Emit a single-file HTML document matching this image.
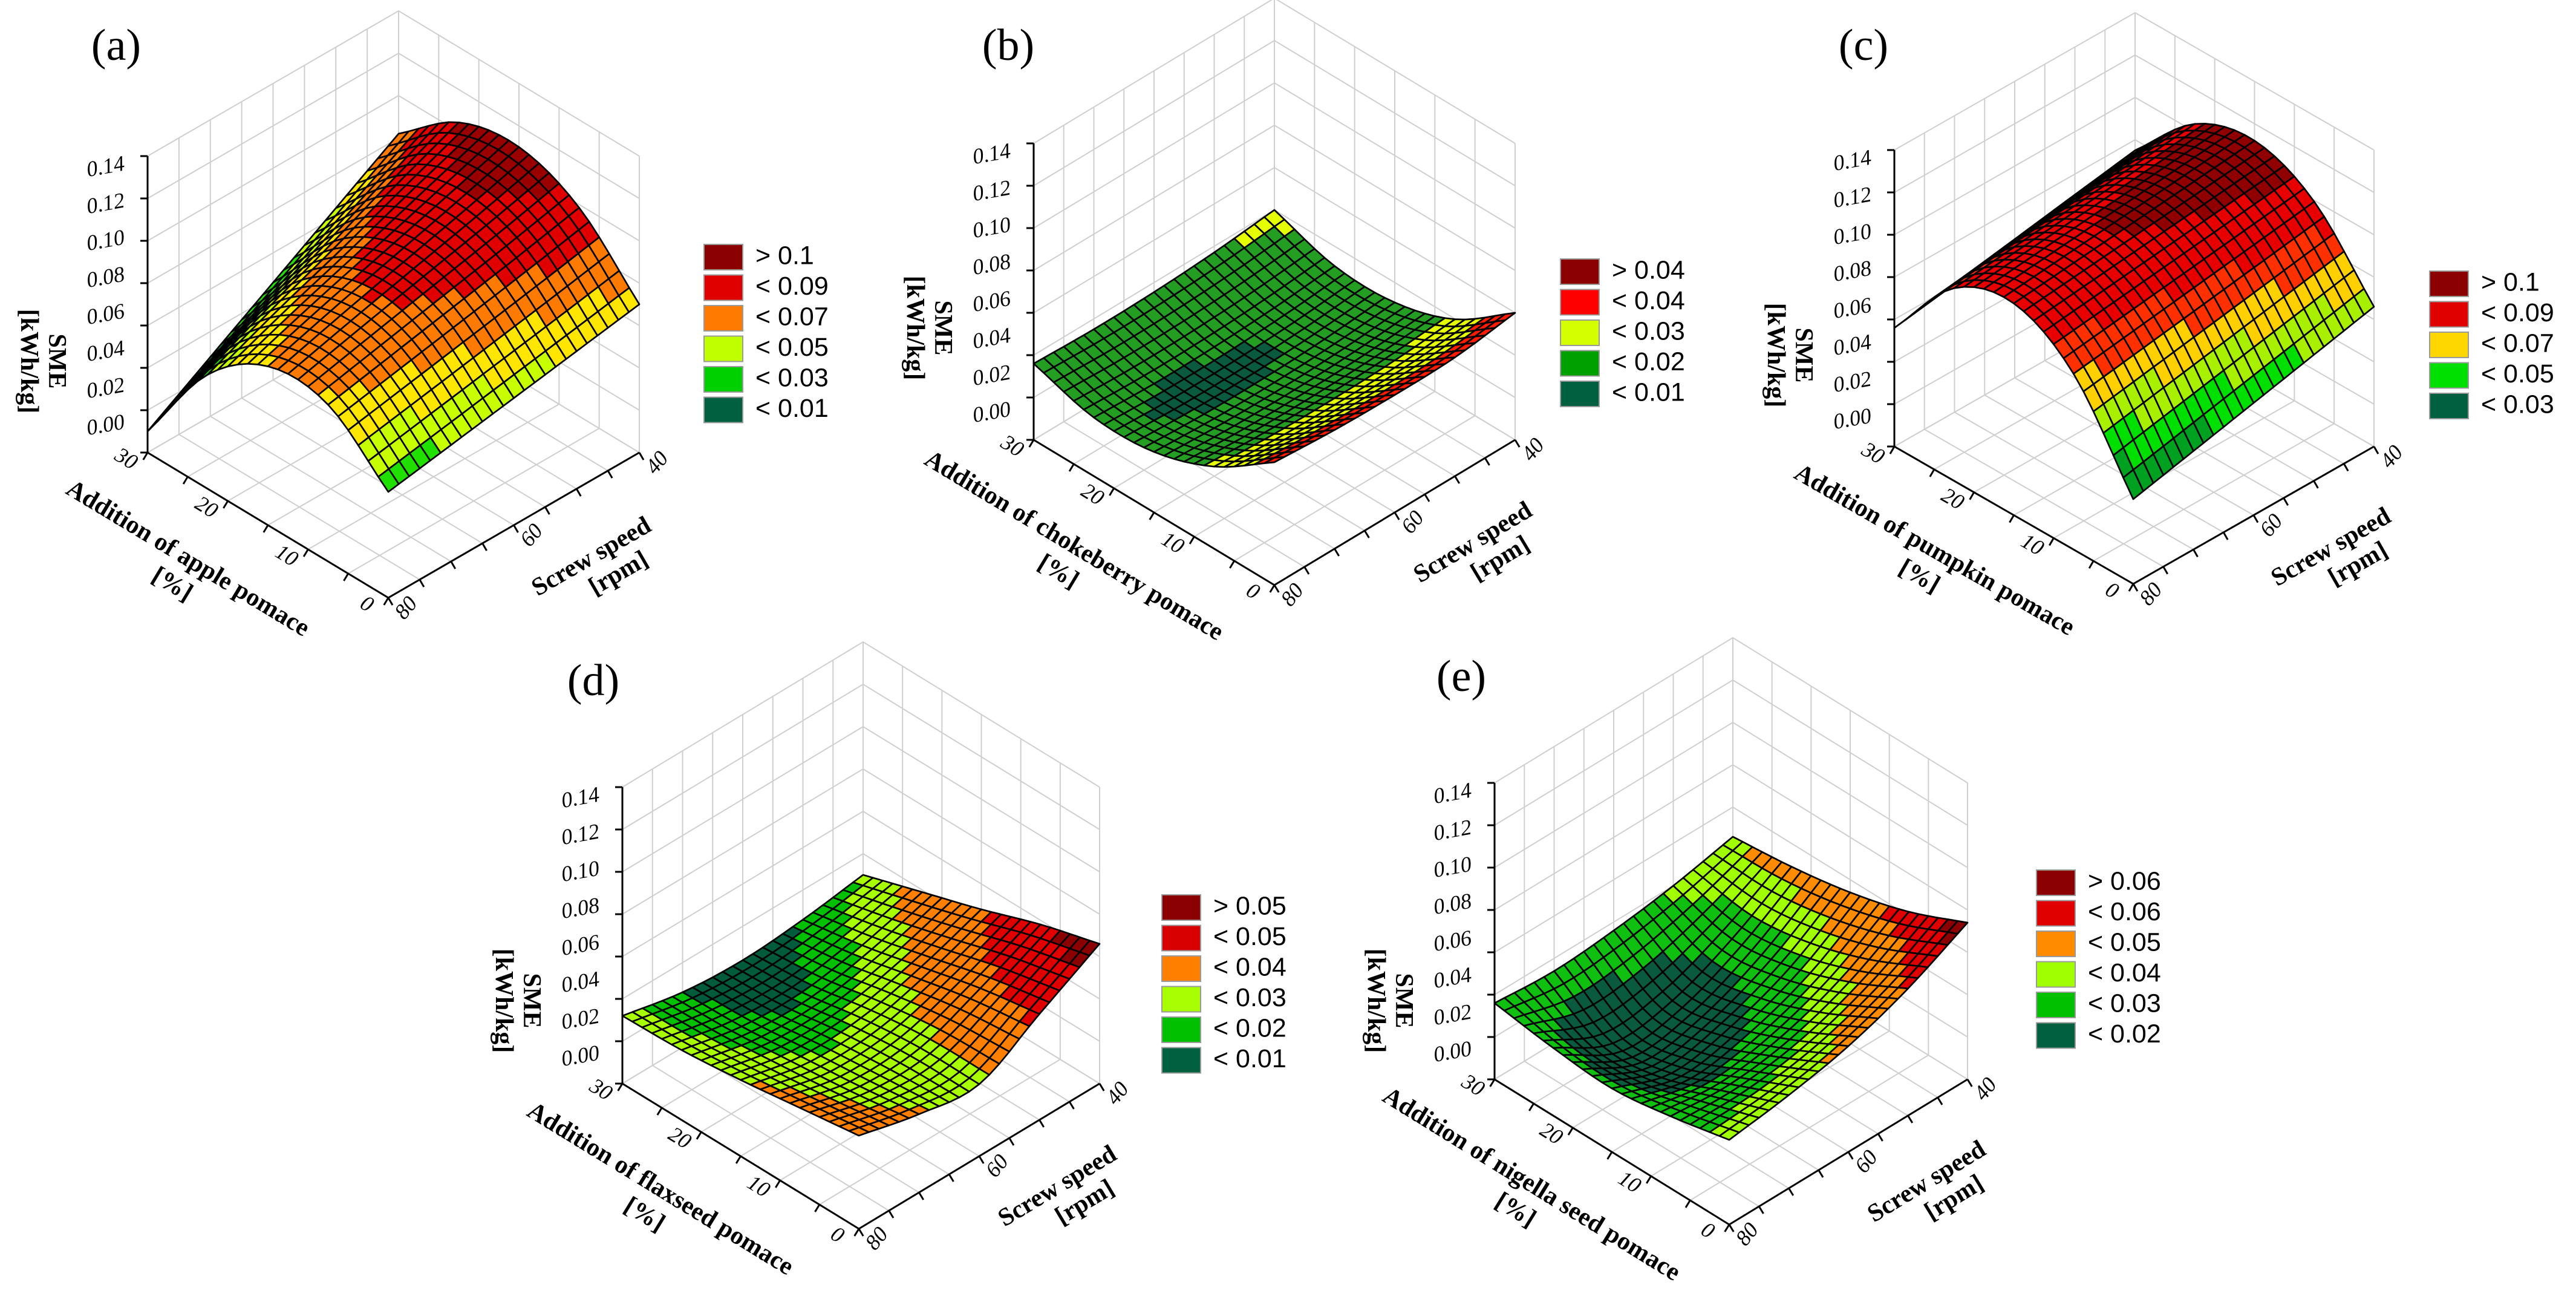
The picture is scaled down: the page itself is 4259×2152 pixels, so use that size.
<!DOCTYPE html>
<html><head><meta charset="utf-8"><title>SME response surfaces</title>
<style>
body{margin:0;background:#fff;}
svg{display:block;}
text{font-family:"Liberation Serif",serif;}
</style></head>
<body>
<svg id="fig" width="4259" height="2152" viewBox="0 0 4259 2152" xmlns="http://www.w3.org/2000/svg">
<rect x="0" y="0" width="4259" height="2152" fill="#ffffff"/>
</svg>
<script>
// ---- data (rows: screw speed 40..80 rpm, cols: pomace addition 0..30 %) ----
const speeds = [40, 50, 60, 70, 80];
const additions = [0, 7.5, 15, 22.5, 30];
const smeA = [
  [0.070, 0.0985, 0.110, 0.1045, 0.082],
  [0.065, 0.092, 0.101, 0.092, 0.064],
  [0.060, 0.086, 0.0925, 0.079, 0.046],
  [0.055, 0.080, 0.084, 0.067, 0.028],
  [0.050, 0.074, 0.075, 0.054, 0.010]
];
const smeB = [
  [0.060, 0.0398, 0.0306, 0.0307, 0.040],
  [0.0561, 0.0375, 0.0282, 0.0281, 0.0371],
  [0.0555, 0.0368, 0.0271, 0.0267, 0.0355],
  [0.0561, 0.0371, 0.0272, 0.0265, 0.0351],
  [0.058, 0.0388, 0.0286, 0.0277, 0.036]
];
const smeC = [
  [0.066, 0.0994, 0.112, 0.1037, 0.075],
  [0.0595, 0.0953, 0.109, 0.1005, 0.0703],
  [0.053, 0.0912, 0.106, 0.0974, 0.0655],
  [0.0465, 0.0871, 0.103, 0.0942, 0.0608],
  [0.040, 0.083, 0.100, 0.091, 0.056]
];
const smeD = [
  [0.066, 0.058, 0.048, 0.039, 0.030],
  [0.050, 0.045, 0.038, 0.031, 0.026],
  [0.034, 0.034, 0.031, 0.026, 0.024],
  [0.037, 0.033, 0.030, 0.027, 0.026],
  [0.044, 0.040, 0.036, 0.033, 0.032]
];
const smeE = [
  [0.074, 0.062, 0.054, 0.049, 0.046],
  [0.060, 0.046, 0.036, 0.032, 0.040],
  [0.050, 0.036, 0.025, 0.020, 0.036],
  [0.044, 0.032, 0.020, 0.017, 0.034],
  [0.040, 0.034, 0.030, 0.032, 0.036]
];
const zTickValues = [0, 0.02, 0.04, 0.06, 0.08, 0.10, 0.12, 0.14];
const zTickLabels = ['0.00', '0.02', '0.04', '0.06', '0.08', '0.10', '0.12', '0.14'];
const speedTickValues = [40, 60, 80];
const additionTickValues = [0, 10, 20, 30];
const legendA = ['> 0.1', '< 0.09', '< 0.07', '< 0.05', '< 0.03', '< 0.01'];
const legendB = ['> 0.04', '< 0.04', '< 0.03', '< 0.02', '< 0.01'];
const legendC = ['> 0.1', '< 0.09', '< 0.07', '< 0.05', '< 0.03'];
const legendD = ['> 0.05', '< 0.05', '< 0.04', '< 0.03', '< 0.02', '< 0.01'];
const legendE = ['> 0.06', '< 0.06', '< 0.05', '< 0.04', '< 0.03', '< 0.02'];
const bandLimitsA = [0.103, 0.088, 0.076, 0.066, 0.056, 0.035];
const bandLimitsB = [0.065, 0.050, 0.037, 0.0262];
const bandLimitsC = [0.105, 0.092, 0.082, 0.072, 0.062, 0.052, 0.044];
const bandLimitsD = [0.060, 0.048, 0.036, 0.030, 0.026];
const bandLimitsE = [0.068, 0.058, 0.046, 0.038, 0.027];

// ---- styles / layout ----
const NS = 'http://www.w3.org/2000/svg';
const svg = document.getElementById('fig');
const BOX_H = 490, ZMAX = 0.14, MESH = 24;
const panels = [
  {id:'a', grid:smeA, limits:bandLimitsA, legend:legendA,
   bandColors:['#9a0000','#e00000','#ff7a00','#ffe600','#c8ff00','#20e000','#00a040'],
   legendColors:['#8b0000','#e00000','#ff7b00','#c0ff00','#00d000','#006040'],
   L:[244,748], F:[642,988], R:[1057,748], lbl:[192,82], legX:1164, legY:425, smeDy:-151,
   title:'Addition of apple pomace'},
  {id:'b', grid:smeB, limits:bandLimitsB, legend:legendB,
   bandColors:['#8b0000','#ff1a00','#e6ff00','#239e23','#0a5a40'],
   legendColors:['#8b0000','#ff0000','#d4ff00','#00a000','#006040'],
   L:[1709,727], F:[2107,967], R:[2505,727], lbl:[1667,82], legX:2580, legY:449, smeDy:-185,
   title:'Addition of chokeberry pomace'},
  {id:'c', grid:smeC, limits:bandLimitsC, legend:legendC,
   bandColors:['#900000','#e80000','#ff3000','#ffd000','#a8f000','#00e000','#00a020','#006040'],
   legendColors:['#8b0000','#e00000','#ffd700','#00e000','#006040'],
   L:[3132,738], F:[3527,965], R:[3925,738], lbl:[3081,82], legX:4017, legY:469, smeDy:-151,
   title:'Addition of pumpkin pomace'},
  {id:'d', grid:smeD, limits:bandLimitsD, legend:legendD,
   bandColors:['#8b0000','#e00000','#ff8000','#a8ff00','#00c000','#005a3c'],
   legendColors:['#8b0000','#d80000','#ff8000','#a8ff00','#00c000','#006040'],
   L:[1029,1791], F:[1420,2031], R:[1818,1791], lbl:[981,1132], legX:1921, legY:1500, smeDy:-137,
   title:'Addition of flaxseed pomace'},
  {id:'e', grid:smeE, limits:bandLimitsE, legend:legendE,
   bandColors:['#8b0000','#e00000','#ff8c00','#a0ff00','#10c010','#0a5a40'],
   legendColors:['#8b0000','#e00000','#ff8c00','#a0ff00','#00c000','#006040'],
   L:[2471,1784], F:[2859,2024], R:[3253,1784], lbl:[2416,1125], legX:3367, legY:1459, smeDy:-130,
   title:'Addition of nigella seed pomace'}
];

function mk(tag, attrs, parent){
  const e = document.createElementNS(NS, tag);
  for (const k in attrs) e.setAttribute(k, attrs[k]);
  (parent || svg).appendChild(e);
  return e;
}
// axis functions
function uOf(speed){ return (speed - speeds[0]) / (speeds[speeds.length-1] - speeds[0]); }
function vOf(add){ return (add - additions[0]) / (additions[additions.length-1] - additions[0]); }
function makeProj(c){
  const zs = BOX_H / ZMAX;
  return function(u, v, z){
    return [c.F[0] + v*(c.L[0]-c.F[0]) + (1-u)*(c.R[0]-c.F[0]),
            c.F[1] + v*(c.L[1]-c.F[1]) + (1-u)*(c.R[1]-c.F[1]) - z*zs];
  };
}
function gv(g, i, j){
  const n = g.length - 1, m = g[0].length - 1;
  if (i < 0) return 2*gv(g,0,j) - gv(g,1,j);
  if (i > n) return 2*gv(g,n,j) - gv(g,n-1,j);
  if (j < 0) return 2*gv(g,i,0) - gv(g,i,1);
  if (j > m) return 2*gv(g,i,m) - gv(g,i,m-1);
  return g[i][j];
}
function cr(p0,p1,p2,p3,t){
  return 0.5*((2*p1)+(-p0+p2)*t+(2*p0-5*p1+4*p2-p3)*t*t+(-p0+3*p1-3*p2+p3)*t*t*t);
}
function surfZ(g, u, v){
  const n = g.length - 1, m = g[0].length - 1;
  let x = u*n, i = Math.min(Math.floor(x), n-1), t = x - i;
  let y = v*m, j = Math.min(Math.floor(y), m-1), s = y - j;
  const rows = [];
  for (let k = -1; k <= 2; k++) rows.push(cr(gv(g,i+k,j-1), gv(g,i+k,j), gv(g,i+k,j+1), gv(g,i+k,j+2), s));
  return cr(rows[0], rows[1], rows[2], rows[3], t);
}
function bandColor(c, z){
  for (let k = 0; k < c.limits.length; k++) if (z > c.limits[k]) return c.bandColors[k];
  return c.bandColors[c.bandColors.length-1];
}
function pts(a){ return a.map(p => p[0].toFixed(1)+','+p[1].toFixed(1)).join(' '); }

panels.forEach(c => {
  const P = makeProj(c);
  const g = mk('g', {});
  
  

  const grey = {stroke:'#cfcfcf', 'stroke-width':2, fill:'none'};
  const gridG = mk('g', grey, g);
  
  
  for (let k = 0; k <= 8; k++){
    const u = k/8;
    const a1 = P(u,1,0), a2 = P(u,1,ZMAX), f1 = P(u,0,0);
    const l1 = mk('line', {x1:a1[0], y1:a1[1], x2:a2[0], y2:a2[1]}, gridG);
    
    
    const l2 = mk('line', {x1:a1[0], y1:a1[1], x2:f1[0], y2:f1[1]}, gridG);
    
    
  }
  for (let k = 0; k <= 6; k++){
    const v = k/6;
    const a1 = P(0,v,0), a2 = P(0,v,ZMAX), f1 = P(1,v,0);
    const l1 = mk('line', {x1:a1[0], y1:a1[1], x2:a2[0], y2:a2[1]}, gridG);
    
    
    const l2 = mk('line', {x1:a1[0], y1:a1[1], x2:f1[0], y2:f1[1]}, gridG);
    
    
  }
  zTickValues.forEach(z => {
    const p1 = P(1,1,z), p2 = P(0,1,z), p3 = P(0,0,z);
    const pl = mk('polyline', {points:pts([p1,p2,p3])}, gridG);
    
    
  });

  const cells = [];
  for (let i = 0; i < MESH; i++) for (let j = 0; j < MESH; j++){
    const u0 = i/MESH, u1 = (i+1)/MESH, v0 = j/MESH, v1 = (j+1)/MESH;
    cells.push({u0,u1,v0,v1,key:(v0+v1)/2 - (u0+u1)/2});
  }
  cells.sort((a,b) => b.key - a.key);
  const sg = mk('g', {stroke:'#000', 'stroke-width':2.7, 'stroke-linejoin':'round'}, g);
  
  
  cells.forEach(q => {
    const corners = [[q.u0,q.v0],[q.u1,q.v0],[q.u1,q.v1],[q.u0,q.v1]].map(([u,v]) => P(u,v,surfZ(c.grid,u,v)));
    const zc = surfZ(c.grid, (q.u0+q.u1)/2, (q.v0+q.v1)/2);
    const poly = mk('polygon', {points:pts(corners), fill:bandColor(c, zc)}, sg);
    
    
  });

  const ax = mk('g', {stroke:'#000', 'stroke-width':3, fill:'none'}, g);
  
  
  const zl = mk('polyline', {points:pts([P(1,1,ZMAX), P(1,1,0), P(1,0,0), P(0,0,0)])}, ax);
  
  
  zTickValues.forEach(z => {
    const p = P(1,1,z);
    const t = mk('line', {x1:p[0], y1:p[1], x2:p[0]-12, y2:p[1]}, ax);
    
    
  });
  const eLF = [c.F[0]-c.L[0], c.F[1]-c.L[1]], nLF0 = Math.hypot(eLF[0], eLF[1]);
  const dLF = [eLF[0]/nLF0, eLF[1]/nLF0], nLF = [-dLF[1], dLF[0]];
  const eFR = [c.R[0]-c.F[0], c.R[1]-c.F[1]], nFR0 = Math.hypot(eFR[0], eFR[1]);
  const dFR = [eFR[0]/nFR0, eFR[1]/nFR0], nFR = [-dFR[1], dFR[0]];
  for (let k = 0; k <= 6; k++){
    const p = P(1, k/6, 0);
    const t = mk('line', {x1:p[0], y1:p[1], x2:p[0]+nLF[0]*14, y2:p[1]+nLF[1]*14}, ax);
    
    
  }
  for (let k = 0; k <= 8; k++){
    const p = P(k/8, 0, 0);
    const t = mk('line', {x1:p[0], y1:p[1], x2:p[0]+nFR[0]*14, y2:p[1]+nFR[1]*14}, ax);
    
    
  }

  zTickValues.forEach((z, k) => {
    const x = c.L[0] - 38, y = c.L[1] - 48 - (z/0.02)*61;
    const t = mk('text', {x:x, y:y, 'font-size':36, 'font-style':'italic', 'text-anchor':'end', 'dominant-baseline':'middle', transform:`rotate(-10 ${x} ${y})`}, g);
    
    
    t.textContent = zTickLabels[k];
  });
  const angLF = Math.atan2(dLF[1], dLF[0]) * 180/Math.PI;
  const angFR = Math.atan2(dFR[1], dFR[0]) * 180/Math.PI;
  additionTickValues.forEach(a => {
    const p = P(1, vOf(a), 0);
    const x = p[0] + nLF[0]*30 - dLF[0]*25, y = p[1] + nLF[1]*30 - dLF[1]*25;
    const t = mk('text', {x:x, y:y, 'font-size':36, 'font-style':'italic', 'text-anchor':'middle', 'dominant-baseline':'middle', transform:`rotate(${angLF} ${x} ${y})`}, g);
    
    
    t.textContent = String(a);
  });
  speedTickValues.forEach(s => {
    const p = P(uOf(s), 0, 0);
    const x = p[0] + nFR[0]*32 + dFR[0]*18, y = p[1] + nFR[1]*32 + dFR[1]*18;
    const t = mk('text', {x:x, y:y, 'font-size':36, 'font-style':'italic', 'text-anchor':'middle', 'dominant-baseline':'middle', transform:`rotate(${angFR - 20} ${x} ${y})`}, g);
    
    
    t.textContent = String(s);
  });

  const mLF = [(c.L[0]+c.F[0])/2, (c.L[1]+c.F[1])/2];
  const tx = mLF[0] - dLF[0]*85 + nLF[0]*140, ty = mLF[1] - dLF[1]*85 + nLF[1]*140;
  const at = mk('text', {x:tx, y:ty, 'font-size':42, 'font-weight':'bold', 'text-anchor':'middle', transform:`rotate(${angLF} ${tx} ${ty})`}, g);
  
  
  const at1 = mk('tspan', {x:tx, dy:-12}, at); at1.textContent = c.title;
  
  
  const at2 = mk('tspan', {x:tx, dy:50}, at); at2.textContent = '[%]';
  
  

  const mFR = [(c.F[0]+c.R[0])/2, (c.F[1]+c.R[1])/2];
  const sx = mFR[0] + dFR[0]*85 + nFR[0]*130, sy = mFR[1] + dFR[1]*85 + nFR[1]*130;
  const st = mk('text', {x:sx, y:sy, 'font-size':42, 'font-weight':'bold', 'text-anchor':'middle', transform:`rotate(${angFR} ${sx} ${sy})`}, g);
  
  
  const st1 = mk('tspan', {x:sx, dy:-8}, st); st1.textContent = 'Screw speed';
  
  
  const st2 = mk('tspan', {x:sx + 25, dy:46}, st); st2.textContent = '[rpm]';
  
  

  const zx = c.L[0] - 175, zy = c.L[1] + c.smeDy;
  const zt = mk('text', {x:zx, y:zy, 'font-size':42, 'font-weight':'bold', 'text-anchor':'middle', transform:`rotate(90 ${zx} ${zy})`}, g);
  
  
  const zt1 = mk('tspan', {x:zx, dy:-12}, zt); zt1.textContent = 'SME';
  
  
  const zt2 = mk('tspan', {x:zx, dy:46}, zt); zt2.textContent = '[kWh/kg]';
  
  

  const pl = mk('text', {x:c.lbl[0], y:c.lbl[1], 'font-size':74, 'text-anchor':'middle', 'dominant-baseline':'middle'}, g);
  
  
  pl.textContent = '(' + c.id + ')';

  const lg = mk('g', {}, g);
  
  
  c.legend.forEach((lab, k) => {
    const y = c.legY + k*50.5;
    const r = mk('rect', {x:c.legX, y:y-21, width:64, height:42, fill:c.legendColors[k], stroke:'#9a9a9a', 'stroke-width':2}, lg);
    
    
    const t = mk('text', {x:c.legX + 85, y:y, 'font-size':43, 'dominant-baseline':'middle', style:'font-family:"Liberation Sans",sans-serif'}, lg);
    
    
    t.textContent = lab;
  });
});
</script>
</body></html>
